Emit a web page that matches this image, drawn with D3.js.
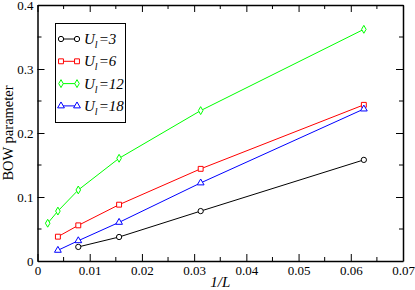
<!DOCTYPE html>
<html>
<head>
<meta charset="utf-8">
<script src="https://cdn.jsdelivr.net/npm/d3@7"></script>
<style>
  body { margin: 0; background: #fff; }
</style>
</head>
<body>
<div class="chart"></div>
<script>
// 1/L values (L = 512 ... 16)
var invL = [1/512, 1/256, 1/128, 1/64, 1/32, 1/16];
var seriesNames = ["3", "6", "12", "18"];
var bowU3 = [null, null, 0.022, 0.0375, 0.078, 0.158];
var bowU6 = [null, 0.038, 0.0557, 0.088, 0.144, 0.244];
var bowU12 = [0.059, 0.078, 0.111, 0.1605, 0.235, 0.362];
var bowU18 = [null, 0.0167, 0.0317, 0.0604, 0.122, 0.2375];
var xTicks = [0, 0.01, 0.02, 0.03, 0.04, 0.05, 0.06, 0.07];
var yTicks = [0, 0.1, 0.2, 0.3, 0.4];

var colors = ["#000000", "#ff0000", "#00ff00", "#0000ff"];
var symbols = ["circle", "square", "diamond", "triangle"];
var allSeries = [bowU3, bowU6, bowU12, bowU18];
var FONT = "'Liberation Serif', 'Times New Roman', Times, serif";

var W = 415, H = 290;
var margin = {top: 5, right: 12, bottom: 29, left: 37.5};
var width = W - margin.left - margin.right,
    height = H - margin.top - margin.bottom;

var x = d3.scaleLinear().domain([0, 0.07]).range([0, width]);
var y = d3.scaleLinear().domain([0, 0.4]).range([height, 0]);

var svg = d3.select(".chart").append("svg")
    .attr("width", W).attr("height", H).style("font-family", FONT);
var g = svg.append("g").attr("transform", "translate(" + margin.left + "," + margin.top + ")");

// minor ticks every half step
var xMinor = d3.range(0.005, 0.07, 0.01);
var yMinor = d3.range(0.05, 0.4, 0.1);

// bottom axis
var xAxis = d3.axisBottom(x).tickValues(xTicks).tickSizeInner(-7).tickSizeOuter(0)
    .tickPadding(4.5).tickFormat(function(d){ return d === 0 ? "0" : d3.format(".2f")(d); });
var gx = g.append("g").attr("transform", "translate(0," + height + ")").call(xAxis);
gx.selectAll("text").attr("font-size", 13).attr("fill", "#000");
gx.append("g").selectAll("line").data(xMinor).enter().append("line")
    .attr("x1", function(d){ return x(d); }).attr("x2", function(d){ return x(d); })
    .attr("y1", 0).attr("y2", -4).attr("stroke", "#000");

// top axis
var xTop = d3.axisTop(x).tickValues(xTicks).tickSizeInner(-7).tickSizeOuter(0).tickFormat("");
var gt = g.append("g").call(xTop);
gt.append("g").selectAll("line").data(xMinor).enter().append("line")
    .attr("x1", function(d){ return x(d); }).attr("x2", function(d){ return x(d); })
    .attr("y1", 0).attr("y2", 4).attr("stroke", "#000");

// left axis
var yAxis = d3.axisLeft(y).tickValues(yTicks).tickSizeInner(-7).tickSizeOuter(0)
    .tickPadding(4).tickFormat(function(d){ return d === 0 ? "0" : d3.format(".1f")(d); });
var gy = g.append("g").call(yAxis);
gy.selectAll("text").attr("font-size", 13).attr("fill", "#000");
gy.append("g").selectAll("line").data(yMinor).enter().append("line")
    .attr("y1", function(d){ return y(d); }).attr("y2", function(d){ return y(d); })
    .attr("x1", 0).attr("x2", 4).attr("stroke", "#000");

// right axis
var yRight = d3.axisRight(y).tickValues(yTicks).tickSizeInner(-7).tickSizeOuter(0).tickFormat("");
var gr = g.append("g").attr("transform", "translate(" + width + ",0)").call(yRight);
gr.append("g").selectAll("line").data(yMinor).enter().append("line")
    .attr("y1", function(d){ return y(d); }).attr("y2", function(d){ return y(d); })
    .attr("x1", 0).attr("x2", -4).attr("stroke", "#000");

g.selectAll(".domain").attr("stroke", "#000").attr("stroke-width", 1.5);
g.selectAll(".tick line").attr("stroke", "#000");

// axis labels
svg.append("text").attr("transform", "translate(13," + (margin.top + height / 2) + ") rotate(-90)")
    .attr("text-anchor", "middle").attr("font-size", 14.5).text("BOW parameter");
svg.append("text").attr("x", margin.left + x(0.035)).attr("y", 287)
    .attr("text-anchor", "middle").attr("font-size", 15).attr("font-style", "italic").text("1/L");

// series
var symbolType = {circle: d3.symbolCircle, square: d3.symbolSquare, diamond: d3.symbolDiamond, triangle: d3.symbolTriangle};
var symbolSize = {circle: 22, square: 24, diamond: 18, triangle: 20};

var line = d3.line()
    .defined(function(d){ return d[1] !== null; })
    .x(function(d){ return x(d[0]); })
    .y(function(d){ return y(d[1]); });

allSeries.forEach(function(vals, i) {
  var pts = invL.map(function(v, j){ return [v, vals[j]]; });
  g.append("path").datum(pts).attr("d", line)
      .attr("fill", "none").attr("stroke", colors[i]).attr("stroke-width", 1);
  g.selectAll(".pt" + i).data(pts.filter(function(d){ return d[1] !== null; }))
    .enter().append("path").attr("class", "pt" + i)
    .attr("transform", function(d){ return "translate(" + x(d[0]) + "," + y(d[1]) + ")"; })
    .attr("d", d3.symbol().type(symbolType[symbols[i]]).size(symbolSize[symbols[i]]))
    .attr("fill", "#fff").attr("stroke", colors[i]).attr("stroke-width", 1);
});

// legend
var leg = svg.append("g");
leg.append("rect").attr("x", 55.5).attr("y", 23.5).attr("width", 70).attr("height", 99)
    .attr("fill", "#fff").attr("stroke", "#000").attr("stroke-width", 1);
seriesNames.forEach(function(name, i) {
  var ly = 39 + i * 22.3;
  leg.append("line").attr("x1", 61).attr("x2", 77).attr("y1", ly).attr("y2", ly)
      .attr("stroke", colors[i]).attr("stroke-width", 1);
  [61, 77].forEach(function(px) {
    leg.append("path").attr("transform", "translate(" + px + "," + ly + ")")
      .attr("d", d3.symbol().type(symbolType[symbols[i]]).size(symbolSize[symbols[i]]))
      .attr("fill", "#fff").attr("stroke", colors[i]).attr("stroke-width", 1);
  });
  var t = leg.append("text").attr("x", 84).attr("y", ly + 5).attr("font-size", 15)
      .attr("font-style", "italic");
  t.append("tspan").text("U");
  t.append("tspan").attr("font-size", 10).attr("dy", 4).text("l");
  t.append("tspan").attr("dy", -4).attr("dx", 1).text("=" + name);
});

svg.selectAll("text").style("font-family", FONT);
</script>
</body>
</html>
